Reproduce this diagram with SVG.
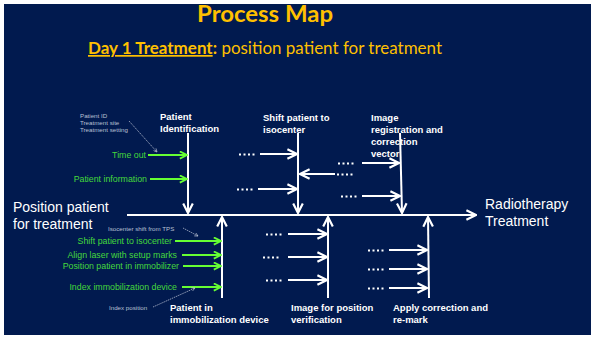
<svg xmlns="http://www.w3.org/2000/svg" width="591" height="337" viewBox="0 0 591 337">
<defs>
<marker id="wh" viewBox="0 0 10 10" refX="9" refY="5" markerWidth="6" markerHeight="6" orient="auto" markerUnits="strokeWidth"><path d="M1,1 L9,5 L1,9" fill="none" stroke="#fff" stroke-width="1.8"/></marker>
<marker id="gh" viewBox="0 0 10 10" refX="9" refY="5" markerWidth="4.5" markerHeight="4.5" orient="auto" markerUnits="strokeWidth"><path d="M1,1 L9,5 L1,9" fill="none" stroke="#66ff33" stroke-width="2"/></marker>
<marker id="sh" viewBox="0 0 10 10" refX="9" refY="5" markerWidth="6" markerHeight="6" orient="auto" markerUnits="strokeWidth"><path d="M1,1 L9,5 L1,9" fill="none" stroke="#c8cede" stroke-width="1.5"/></marker>
</defs>
<style>
.lab{font-family:"Liberation Sans",Arial,sans-serif;font-size:9.5px;font-weight:bold;fill:#fff}
.big{font-family:"Liberation Sans",Arial,sans-serif;font-size:14px;fill:#fff}
.gt{font-family:"Liberation Sans",Arial,sans-serif;font-size:8.8px;fill:#45d83c;text-anchor:end}
.sm{font-family:"Liberation Sans",Arial,sans-serif;font-size:6.2px;fill:#b8c0d4}
.v{stroke:#fff;stroke-width:2;fill:none;marker-end:url(#wh)}
.a{stroke:#fff;stroke-width:2;fill:none;marker-end:url(#wh)}
.g{stroke:#66ff33;stroke-width:2;fill:none;marker-end:url(#gh)}
.s{stroke:#c8cede;stroke-width:0.7;fill:none;stroke-dasharray:1.5 0.8;marker-end:url(#sh)}
.d{stroke:#fff;stroke-width:2;stroke-dasharray:2 2.5;fill:none}
</style>
<rect x="0" y="0" width="591" height="337" fill="#fff"/>
<rect x="4" y="4" width="587" height="331" fill="#011a4f"/>
<g id="title">
<text x="265" y="22" text-anchor="middle" font-family="Lato,'Open Sans',sans-serif" font-size="23" font-weight="bold" fill="#ffc000" textLength="136" lengthAdjust="spacingAndGlyphs">Process Map</text>
<text x="88" y="54" font-family="Lato,'Open Sans',sans-serif" font-size="17" fill="#ffc000" textLength="354" lengthAdjust="spacingAndGlyphs"><tspan font-weight="bold" text-decoration="underline">Day 1 Treatment</tspan><tspan font-weight="bold">:</tspan> position patient for treatment</text>
</g>
<g id="connectors">
<line class="a" x1="127" y1="215" x2="476" y2="215"/>
<line class="v" x1="188" y1="133" x2="188" y2="213"/>
<line class="v" x1="298" y1="133" x2="298" y2="213"/>
<line class="v" x1="400" y1="133" x2="402" y2="213"/>
<line class="v" x1="222" y1="298" x2="222" y2="217"/>
<line class="v" x1="328" y1="298" x2="328" y2="217"/>
<line class="v" x1="429" y1="298" x2="428" y2="217"/>
<line class="g" x1="148" y1="155" x2="187" y2="155"/>
<line class="g" x1="150" y1="179" x2="187" y2="179"/>
<line class="g" x1="175" y1="241" x2="221" y2="241"/>
<line class="g" x1="182" y1="255" x2="221" y2="255"/>
<line class="g" x1="183" y1="266" x2="221" y2="266"/>
<line class="g" x1="182" y1="287" x2="221" y2="287"/>
<line class="a" x1="260" y1="154" x2="297" y2="154"/>
<line class="a" x1="335" y1="174" x2="300" y2="174"/>
<line class="a" x1="258" y1="189" x2="297" y2="189"/>
<line class="a" x1="362" y1="163" x2="399" y2="163"/>
<line class="a" x1="362" y1="196" x2="400" y2="196"/>
<line class="a" x1="288" y1="234" x2="327" y2="234"/>
<line class="a" x1="288" y1="257" x2="327" y2="257"/>
<line class="a" x1="288" y1="280" x2="327" y2="280"/>
<line class="a" x1="389" y1="250" x2="427" y2="250"/>
<line class="a" x1="389" y1="269" x2="427" y2="269"/>
<line class="a" x1="389" y1="288" x2="427" y2="288"/>
<path class="d" d="M239,154.5h17 M337,174.5h17 M237,189.5h17 M338,163.5h17 M341,196.5h17 M266,234.5h17 M263,257.5h17 M266,280.5h17 M368,250.5h17 M368,269.5h17 M368,288.5h17"/>
<line class="s" x1="129" y1="121" x2="157" y2="152"/>
<line class="s" x1="183" y1="228" x2="198" y2="236"/>
<line class="s" x1="153" y1="307" x2="195" y2="288"/>
</g>
<g id="start"><text class="big" x="13" y="212">Position patient</text><text class="big" x="13" y="229">for treatment</text></g>
<g id="end"><text class="big" x="485" y="209">Radiotherapy</text><text class="big" x="485" y="226">Treatment</text></g>
<g id="patient-identification"><text class="lab" x="160" y="120">Patient</text><text class="lab" x="160" y="132">Identification</text></g>
<g id="shift-patient"><text class="lab" x="263" y="121">Shift patient to</text><text class="lab" x="263" y="133">isocenter</text></g>
<g id="image-registration"><text class="lab" x="371" y="121">Image</text><text class="lab" x="371" y="133">registration and</text><text class="lab" x="371" y="145">correction</text><text class="lab" x="371" y="157">vector</text></g>
<g id="patient-immobilization"><text class="lab" x="170" y="311">Patient in</text><text class="lab" x="170" y="323">immobilization device</text></g>
<g id="image-verification"><text class="lab" x="291" y="311">Image for position</text><text class="lab" x="291" y="323">verification</text></g>
<g id="apply-correction"><text class="lab" x="393" y="311">Apply correction and</text><text class="lab" x="393" y="323">re-mark</text></g>
<g id="inputs">
<text class="sm" x="80" y="118">Patient ID</text>
<text class="sm" x="80" y="125">Treatment site</text>
<text class="sm" x="80" y="132">Treatment setting</text>
<text class="gt" x="146" y="158">Time out</text>
<text class="gt" x="147" y="182">Patient information</text>
<text class="sm" x="108" y="231">Isocenter shift from TPS</text>
<text class="gt" x="172" y="244">Shift patient to isocenter</text>
<text class="gt" x="177" y="258">Align laser with setup marks</text>
<text class="gt" x="179" y="269">Position patient in immobilizer</text>
<text class="gt" x="177" y="290">Index immobilization device</text>
<text class="sm" x="109" y="310">Index position</text>
</g>
</svg>
